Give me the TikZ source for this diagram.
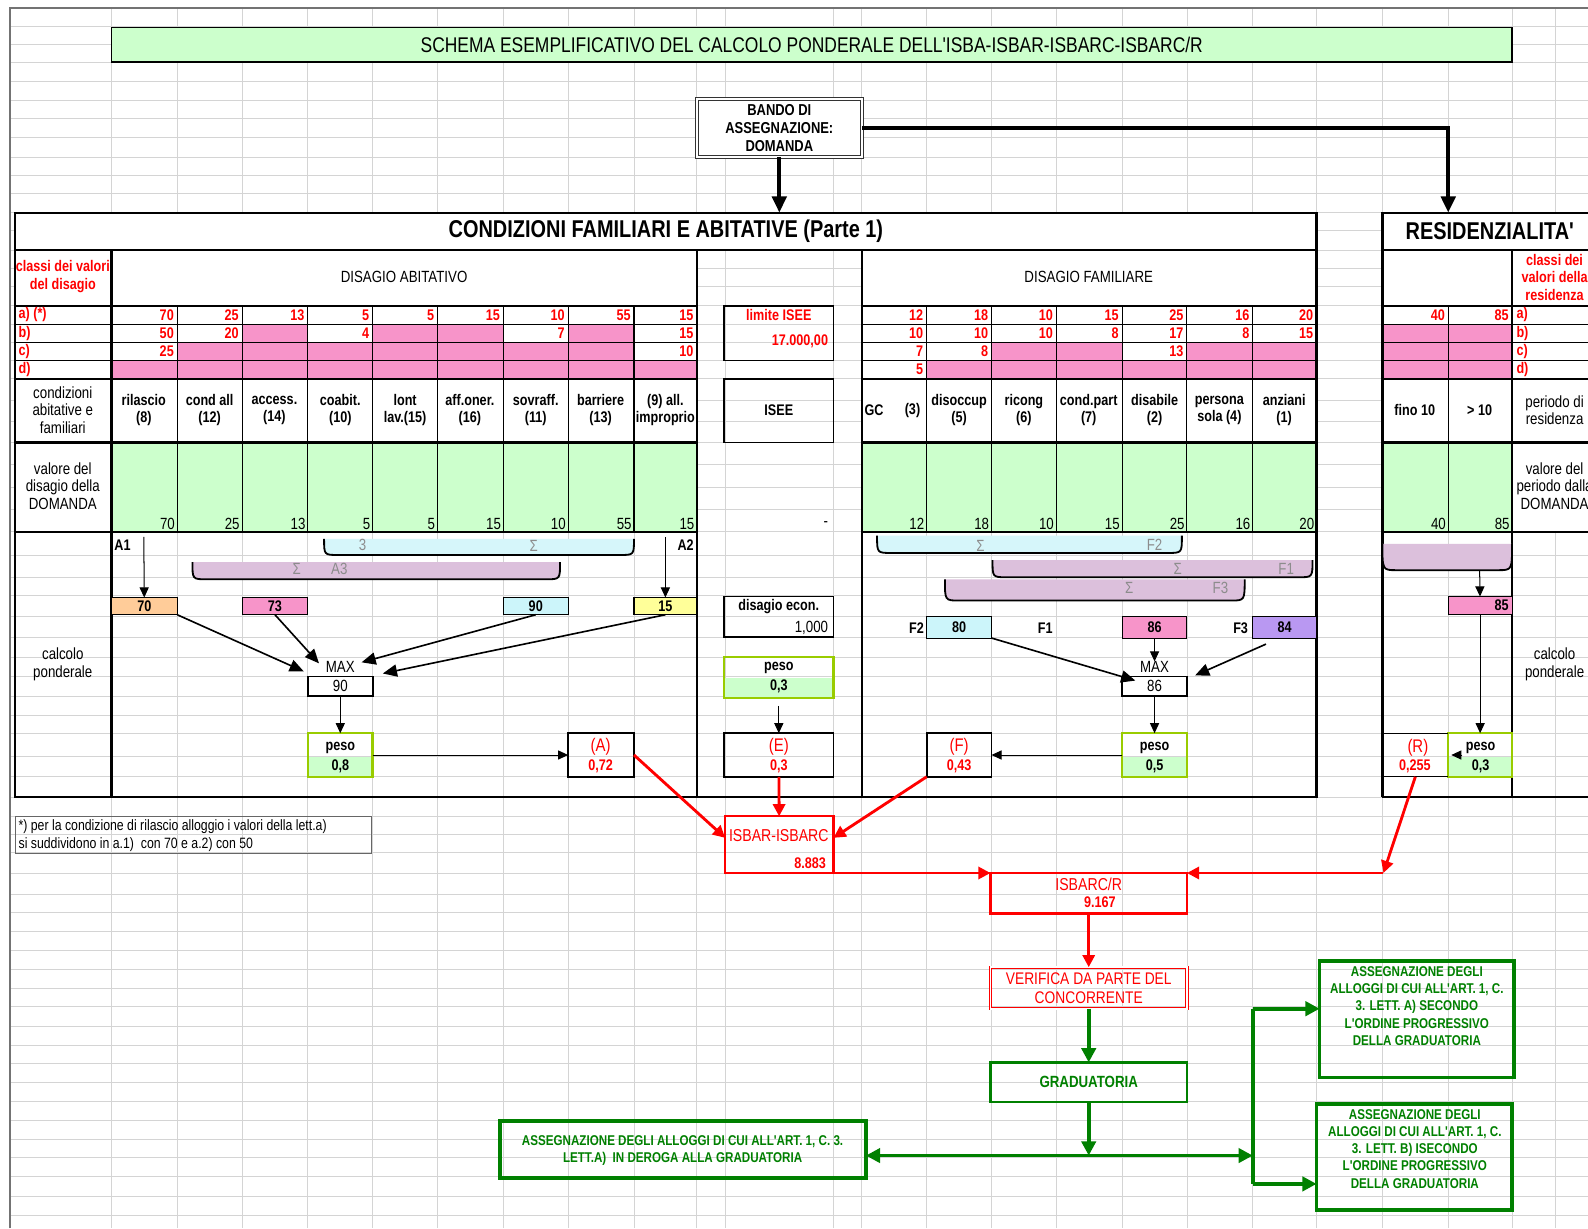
\documentclass[tikz,border=0pt]{standalone}
\usepackage{fontspec}
\setmainfont{Liberation Sans}[FakeStretch=0.82, Ligatures=TeXOff]
\usetikzlibrary{positioning, arrows.meta, fit, calc}

\definecolor{cellgreen}{HTML}{CCFFCC}
\definecolor{cellpink}{HTML}{F794C9}
\definecolor{cellorange}{HTML}{FFCC99}
\definecolor{cellcyan}{HTML}{CCF5FA}
\definecolor{cellyellow}{HTML}{FFFF99}
\definecolor{cellpurple}{HTML}{B998F2}
\definecolor{hatchpurple}{HTML}{DCC0DC}
\definecolor{hatchcyan}{HTML}{D6F6FA}
\definecolor{pesoborder}{HTML}{99CC00}
\definecolor{flowgreen}{HTML}{008000}

\newcommand{\cellfont}{\fontsize{7.6}{8.6}\selectfont}
\newcommand{\labfont}{\fontsize{8}{8.8}\selectfont}
\newcommand{\hdrfont}{\fontsize{12}{14}\selectfont\bfseries}
\newcommand{\titlefont}{\fontsize{10.5}{12}\selectfont}
\newcommand{\letfont}{\fontsize{9}{10}\selectfont}
\newcommand{\assfont}{\fontsize{7}{8.5}\selectfont\bfseries}

% bracket under the summed columns
\newcommand{\sumbracket}[5]{%
  \fill[#5] (#1,#3) .. controls (#1,#4) .. (#1+14,#4) -- (#2-14,#4) .. controls (#2,#4) .. (#2,#3) -- cycle;
  \draw[line width=0.9pt] (#1,#3) .. controls (#1,#4) .. (#1+14,#4) -- (#2-14,#4) .. controls (#2,#4) .. (#2,#3);}

\begin{document}
\begin{tikzpicture}
  [x=0.5pt, y=-0.5pt,
   gridline/.style={draw=black!17, line width=0.4pt},
   thickline/.style={line width=1.1pt},
   thinline/.style={line width=0.5pt},
   fitbox/.style={inner sep=0pt, outer sep=0pt},
   cbox/.style={fitbox, draw, line width=0.5pt},
   pesobox/.style={fitbox, draw=pesoborder, line width=1.2pt},
   resbox/.style={fitbox, draw, line width=0.9pt},
   hd/.style={font=\cellfont\bfseries, align=center, inner sep=0pt},
   lab/.style={font=\labfont, align=center, inner sep=0pt},
   rnum/.style={font=\cellfont\bfseries, text=red, anchor=east, inner sep=0pt},
   vnum/.style={font=\labfont, anchor=east, inner sep=0pt},
   rlab/.style={font=\cellfont\bfseries, text=red, anchor=west, inner sep=0pt},
   sig/.style={font=\labfont, text=black!45, inner sep=0pt},
   arr/.style={-{Triangle[length=5pt,width=4.5pt]}, line width=0.5pt},
   darr/.style={-{Triangle[length=7pt,width=6pt]}, line width=0.8pt},
   bigarr/.style={-{Triangle[length=8pt,width=7pt]}, line width=2pt},
   redarr/.style={-{Triangle[length=6pt,width=6pt]}, draw=red, line width=1.4pt},
   grnarr/.style={-{Triangle[length=7pt,width=7pt]}, draw=flowgreen, line width=1.8pt},
   assbox/.style={fitbox, draw=flowgreen, line width=1.8pt},
   asstxt/.style={font=\assfont, text=flowgreen, align=center, inner sep=0pt}]

  \useasboundingbox (0,0) rectangle (1568,1213);
  \clip (0,0) rectangle (1568,1213);
  \fill[white] (0,0) rectangle (1568,1213);

  % spreadsheet grid
  \foreach \gx in {10,110,175,239,304,368,432,497,561,626,688,716,823,851,915,979,1043,1108,1172,1237,1300,1365,1430,1493,1536}
    \draw[gridline] (\gx,8) -- (\gx,1213);
  \foreach \gy in {8,26,44,62,80,99,117,136,155,173,191,210,228,247,265,283,302,320,338,356,374,395,416,437,459,481,503,525,548,570,588,609,629,649,668,688,706,724,747,767,787,806,824,842,862,883,901,920,938,957,976,994,1013,1032,1050,1069,1088,1106,1125,1143,1162,1181,1200}
    \draw[gridline] (10,\gy) -- (1568,\gy);
  \draw[black!55, line width=0.7pt] (10,1213) -- (10,8) -- (1568,8);

  \node[fitbox, draw, line width=0.8pt, fill=cellgreen, fit={(110,27) (1493,61)}] (title) {};
  \node[font=\titlefont, inner sep=0pt] (titlet) at (title)
    {SCHEMA ESEMPLIFICATIVO DEL CALCOLO PONDERALE DELL'ISBA-ISBAR-ISBARC-ISBARC/R};

  \node[fitbox, draw=black!80, double, double distance=1.2pt, line width=0.5pt, fill=white,
        fit={(688,98) (851,155)}] (bando) {};
  \node[hd, font=\fontsize{7.8}{9}\selectfont\bfseries] (bandot) at (bando) {BANDO DI\\ASSEGNAZIONE:\\DOMANDA};

  % fills of the tables
  \fill[white] (15,210) rectangle (1300,247);
  \fill[white] (15,247) rectangle (688,525);
  \fill[white] (851,247) rectangle (1300,525);
  \fill[white] (1365,210) rectangle (1568,437);
  \fill[white] (1493,437) rectangle (1568,525);
  \fill[cellpink] (110,356) rectangle (688,374);
  \fill[cellpink] (175,338) rectangle (626,356);
  \foreach \xa/\xb in {239/304,368/432,432/497,561/626}
    \fill[cellpink] (\xa,320) rectangle (\xb,338);
  \fill[cellpink] (915,356) rectangle (1300,374);
  \fill[cellpink] (979,338) rectangle (1108,356);
  \fill[cellpink] (1172,338) rectangle (1300,356);
  \fill[cellpink] (1365,320) rectangle (1493,374);
  \fill[cellgreen] (110,437) rectangle (688,525);
  \fill[cellgreen] (851,437) rectangle (1300,525);
  \fill[cellgreen] (1365,437) rectangle (1493,525);

  % lines of the main table
  \draw[thickline] (15,210) rectangle (1300,787);
  \draw[thickline] (15,247) -- (1300,247);
  \foreach \x in {110,688,851}
    \draw[thickline] (\x,247) -- (\x,787);
  \foreach \y in {302,374,437,525} {
    \draw[thickline] (15,\y) -- (688,\y);
    \draw[thickline] (851,\y) -- (1300,\y);
  }
  \foreach \y in {320,338,356} {
    \draw[thinline] (15,\y) -- (688,\y);
    \draw[thinline] (851,\y) -- (1300,\y);
  }
  \foreach \x in {175,239,304,368,432,497,561,626,915,979,1043,1108,1172,1237}
    \draw[thinline] (\x,302) -- (\x,525);

  % lines of the residence table
  \draw[thickline] (1365,787) -- (1365,210) -- (1580,210);
  \draw[thickline] (1365,787) -- (1580,787);
  \draw[thickline] (1365,247) -- (1580,247);
  \draw[thickline] (1493,247) -- (1493,787);
  \foreach \y in {302,374,437,525}
    \draw[thickline] (1365,\y) -- (1580,\y);
  \foreach \y in {320,338,356}
    \draw[thinline] (1365,\y) -- (1580,\y);
  \draw[thinline] (1430,302) -- (1430,525);

  \node[fitbox, fit={(15,210) (1300,247)}] (hdrA) {};
  \node[font=\hdrfont, inner sep=0pt] (hdrAt) at (hdrA) {CONDIZIONI FAMILIARI E ABITATIVE (Parte 1)};
  \node[fitbox, fit={(1365,210) (1577,247)}] (hdrR) {};
  \node[font=\hdrfont, inner sep=0pt] (hdrRt) at (hdrR) {RESIDENZIALITA'};

  \coordinate (rtop) at (1430,210);
  \draw[bigarr] (bando.south) -- (bando.south |- hdrA.north);
  \draw[bigarr] (bando.east) -| (rtop);

  % headers
  \node[rlab, anchor=center, align=center] (classi) at (62,273) {classi dei valori\\del disagio};
  \node[lab] (disab) at (399,273) {DISAGIO ABITATIVO};
  \node[lab] (disfam) at (1075,273) {DISAGIO FAMILIARE};
  \node[rlab, anchor=center, align=center] (classr) at (1535,274) {classi dei\\valori della\\residenza};

  \foreach \y/\l [count=\i] in {311/{a) (*)},329/b),347/c),365/d)} {
    \node[rlab] (cl\i) at (18,\y) {\l};
  }
  \foreach \y/\l [count=\i] in {311/a),329/b),347/c),365/d)} {
    \node[rlab] (cr\i) at (1497,\y) {\l};
  }

  % class values
  \foreach \x/\v [count=\i] in {175/70,239/25,304/13,368/5,432/5,497/15,561/10,626/55,688/15,915/12,979/18,1043/10,1108/15,1172/25,1237/16,1300/20,1430/40,1493/85}
    \node[rnum] (ra\i) at (\x-3,311) {\v};
  \foreach \x/\v [count=\i] in {175/50,239/20,368/4,561/7,688/15,915/10,979/10,1043/10,1108/8,1172/17,1237/8,1300/15}
    \node[rnum] (rb\i) at (\x-3,329) {\v};
  \foreach \x/\v [count=\i] in {175/25,688/10,915/7,979/8,1172/13}
    \node[rnum] (rc\i) at (\x-3,347) {\v};
  \node[rnum] (rd1) at (912,365) {5};

  % conditions
  \node[lab] (lcond) at (62,405) {condizioni\\abitative e\\familiari};
  \foreach \x/\t [count=\i] in {142/{rilascio\\(8)},207/{cond all\\(12)},271/{access.\\(14)},336/{coabit.\\(10)},400/{lont\\lav.(15)},464/{aff.oner.\\(16)},529/{sovraff.\\(11)},593/{barriere\\(13)},657/{(9) all.\\improprio}}
    \node[hd] (ha\i) at (\x,405) {\t};
  \node[hd] (gc) at (863,405) {GC};
  \node[hd] (gcn) at (901,405) {(3)};
  \foreach \x/\t [count=\i] in {947/{disoccup\\(5)},1011/{ricong\\(6)},1075/{cond.part\\(7)},1140/{disabile\\(2)},1204/{persona\\sola (4)},1268/{anziani\\(1)}}
    \node[hd] (hf\i) at (\x,405) {\t};
  \node[hd] (fino) at (1397,405) {fino 10};
  \node[hd] (oltre) at (1461,405) {> 10};
  \node[lab] (rper) at (1535,405) {periodo di\\residenza};

  % values of the application
  \node[lab] (lval) at (62,480) {valore del\\disagio della\\DOMANDA};
  \foreach \x/\v [count=\i] in {175/70,239/25,304/13,368/5,432/5,497/15,561/10,626/55,688/15,915/12,979/18,1043/10,1108/15,1172/25,1237/16,1300/20,1430/40,1493/85}
    \node[vnum] (va\i) at (\x-2,517) {\v};
  \node[vnum] (iseev) at (818,517) {-};
  \node[lab] (rval) at (1535,480) {valore del\\periodo dalla\\DOMANDA};

  \node[resbox, fit={(715,302) (823,356)}] (lim) {};
  \node[rlab, anchor=center] (limt) at (769,311) {limite ISEE};
  \node[rnum] (limv) at (818,337) {17.000,00};
  \node[resbox, fit={(715,374) (823,437)}] (isee) {};
  \node[hd] (iseet) at (isee) {ISEE};

  % calcolo ponderale
  \node[lab] (lcalc) at (62,656) {calcolo\\ponderale};
  \node[lab] (rcalc) at (1535,656) {calcolo\\ponderale};

  \sumbracket{320}{626}{532}{548}{hatchcyan}
  \sumbracket{190}{553}{555}{572}{hatchpurple}
  \sumbracket{866}{1167}{529}{546}{hatchcyan}
  \sumbracket{980}{1296}{553}{570}{hatchpurple}
  \sumbracket{933}{1229}{572}{593}{hatchpurple}
  \sumbracket{1365}{1493}{537}{563}{hatchpurple}
  \node[sig] (s3) at (358,538) {3};
  \node[sig] (s3s) at (527,539) {Σ};
  \node[sig] (sa3s) at (293,562) {Σ};
  \node[sig] (sa3) at (335,562) {A3};
  \node[sig] (sf2s) at (968,539) {Σ};
  \node[sig] (sf2) at (1140,538) {F2};
  \node[sig] (sf1s) at (1163,562) {Σ};
  \node[sig] (sf1) at (1270,562) {F1};
  \node[sig] (sf3s) at (1115,581) {Σ};
  \node[sig] (sf3) at (1205,581) {F3};

  % abitativo
  \node[hd] (a1) at (121,538) {A1};
  \node[hd] (a2) at (677,538) {A2};
  \coordinate (a1s) at (142,530);
  \coordinate (a2s) at (657,530);
  \node[cbox, fill=cellorange, fit={(110,590) (175,607)}] (b70) {};
  \node[hd] (b70t) at (b70) {70};
  \node[cbox, fill=cellpink, fit={(239,590) (304,607)}] (b73) {};
  \node[hd] (b73t) at (b73) {73};
  \node[cbox, fill=cellcyan, fit={(497,590) (561,607)}] (b90) {};
  \node[hd] (b90t) at (b90) {90};
  \node[cbox, fill=cellyellow, fit={(626,590) (688,607)}] (b15) {};
  \node[hd] (b15t) at (b15) {15};
  \draw[arr] (a1s) -- (b70);
  \draw[arr] (a2s) -- (b15);

  \node[lab] (maxa) at (336,659) {MAX};
  \node[fitbox, draw, line width=0.8pt, fit={(304,668) (368,687)}] (m90) {};
  \node[lab] (m90t) at (m90) {90};
  \coordinate (t1) at (300,663);
  \coordinate (t2) at (315,655);
  \coordinate (t3) at (357,654);
  \coordinate (t4) at (378,665);
  \draw[darr] (b70.south east) -- (t1);
  \draw[darr] (b73.south) -- (t2);
  \draw[darr] (b90.south) -- (t3);
  \draw[darr] (b15.south) -- (t4);

  \fill[cellgreen] (304,747) rectangle (368,767);
  \node[pesobox, fit={(304,724) (368,767)}] (pesoa) {};
  \node[hd] (pesoat) at (336,739) {peso};
  \node[hd] (pesoav) at (336,757) {0,8};
  \draw[arr] (m90) -- (pesoa);

  \node[resbox, fit={(561,724) (626,767)}] (boxA) {};
  \node[lab, font=\letfont, text=red] (boxAt) at (593,737) {(A)};
  \node[hd, text=red] (boxAv) at (593,757) {0,72};
  \draw[arr] (pesoa) -- (boxA);

  % economico
  \node[resbox, fit={(715,589) (823,629)}] (econ) {};
  \node[hd] (econt) at (769,599) {disagio econ.};
  \node[vnum] (econv) at (818,620) {1,000};
  \fill[cellgreen] (715,669) rectangle (823,689);
  \node[pesobox, fit={(715,649) (823,689)}] (pesoe) {};
  \node[hd] (pesoet) at (769,660) {peso};
  \node[hd] (pesoev) at (769,678) {0,3};
  \node[resbox, fit={(715,724) (823,767)}] (boxE) {};
  \node[lab, font=\letfont, text=red] (boxEt) at (769,737) {(E)};
  \node[hd, text=red] (boxEv) at (769,757) {0,3};
  \draw[arr, shorten <=4pt] (pesoe) -- (boxE);

  % familiare
  \node[hd] (f2l) at (905,620) {F2};
  \node[cbox, fill=cellcyan, fit={(915,609) (979,630)}] (b80) {};
  \node[hd] (b80t) at (b80) {80};
  \node[hd] (f1l) at (1032,620) {F1};
  \node[cbox, fill=cellpink, fit={(1108,609) (1172,630)}] (b86) {};
  \node[hd] (b86t) at (b86) {86};
  \node[hd] (f3l) at (1225,620) {F3};
  \node[cbox, fill=cellpurple, fit={(1237,609) (1300,630)}] (b84) {};
  \node[hd] (b84t) at (b84) {84};
  \node[lab] (maxf) at (1140,659) {MAX};
  \node[fitbox, draw, line width=0.8pt, fit={(1108,668) (1172,687)}] (m86) {};
  \node[lab] (m86t) at (m86) {86};
  \coordinate (t5) at (1121,672);
  \coordinate (f3s) at (1250,636);
  \coordinate (t6) at (1180,667);
  \draw[darr] (b80.south east) -- (t5);
  \draw[arr] (b86) -- (maxf);
  \draw[darr] (f3s) -- (t6);

  \fill[cellgreen] (1108,747) rectangle (1172,767);
  \node[pesobox, fit={(1108,724) (1172,767)}] (pesof) {};
  \node[hd] (pesoft) at (1140,739) {peso};
  \node[hd] (pesofv) at (1140,757) {0,5};
  \draw[arr] (m86) -- (pesof);
  \node[resbox, fit={(915,724) (979,767)}] (boxF) {};
  \node[lab, font=\letfont, text=red] (boxFt) at (947,737) {(F)};
  \node[hd, text=red] (boxFv) at (947,757) {0,43};
  \draw[arr] (pesof) -- (boxF);

  % residenza
  \coordinate (rbr) at (1461,563);
  \node[cbox, fill=cellpink, fit={(1430,589) (1493,607)}] (b85r) {};
  \node[rnum, text=black] (b85t) at (1490,598) {85};
  \draw[arr] (rbr) -- (b85r);
  \fill[cellgreen] (1430,747) rectangle (1493,767);
  \node[pesobox, fit={(1430,724) (1493,767)}] (pesor) {};
  \node[hd] (pesort) at (1462,739) {peso};
  \node[hd] (pesorv) at (1462,757) {0,3};
  \draw[arr] (b85r) -- (pesor);
  \draw[arr] ($(pesor.west)+(14,0)$) -- ($(pesor.west)+(3,0)$);
  \node[fitbox, fit={(1365,724) (1430,767)}] (boxR) {};
  \draw[thinline] (1365,724) -- (1430,724);
  \draw[thinline] (1365,767) -- (1430,767);
  \node[lab, font=\letfont, text=red] (boxRt) at (1400,738) {(R)};
  \node[hd, text=red] (boxRv) at (1397,757) {0,255};

  % note
  \node[fitbox, draw=black!60, line width=0.5pt, fit={(15,806) (367,843)}] (note) {};
  \node[lab, font=\fontsize{7.4}{8.8}\selectfont, anchor=west, align=left] (notet) at (18,825)
    {*) per la condizione di rilascio alloggio i valori della lett.a)\\si suddividono in a.1)\ \ con 70 e a.2) con 50};

  % red flow
  \node[fitbox, draw=red, line width=1.2pt, fit={(716,806) (823,862)}] (isbar) {};
  \node[lab, font=\fontsize{8.5}{10}\selectfont, text=red] (isbart) at (769,825) {ISBAR-ISBARC};
  \node[rnum] (isbarv) at (816,852) {8.883};
  \node[fitbox, draw=red, line width=1.2pt, fit={(978,862) (1172,902)}] (isbarcr) {};
  \node[lab, font=\fontsize{8.5}{10}\selectfont, text=red] (isbarcrt) at (1075,873) {ISBARC/R};
  \node[hd, text=red] (isbarcrv) at (1086,891) {9.167};
  \draw[redarr] (boxA.east) -- ($(isbar.north west)!0.38!(isbar.south west)$);
  \draw[redarr] (boxE) -- (isbar);
  \draw[redarr] (boxF.south west) -- ($(isbar.north east)!0.38!(isbar.south east)$);
  \draw[redarr] (isbar.south east) -- (isbarcr.north west);
  \coordinate (rj) at (1366,862);
  \draw[redarr] (boxR.south) -- (rj);
  \draw[redarr] (rj) -- (isbarcr.north east);

  \node[fitbox, draw=red, double, double distance=0.8pt, line width=0.4pt, fit={(978,955) (1172,996)}] (verif) {};
  \node[lab, font=\fontsize{8.3}{9.2}\selectfont, text=red] (veriftt) at (verif) {VERIFICA DA PARTE DEL\\CONCORRENTE};
  \draw[redarr] (isbarcr) -- (verif);

  % green flow
  \node[fitbox, draw=flowgreen, line width=1.3pt, fit={(978,1049) (1172,1088)}] (grad) {};
  \node[hd, font=\fontsize{8}{9}\selectfont\bfseries, text=flowgreen] (gradt) at (grad) {GRADUATORIA};
  \draw[grnarr] (verif) -- (grad);
  \node[assbox, fit={(494,1107) (855,1163)}] (assleft) {};
  \node[asstxt] (asslt) at (674,1136)
    {ASSEGNAZIONE DEGLI ALLOGGI DI CUI ALL'ART. 1, C. 3.\\LETT.A)\ \ IN DEROGA ALLA GRADUATORIA};
  \node[assbox, fit={(1303,949) (1495,1064)}] (ass1) {};
  \node[asstxt, anchor=north] (ass1t) at (1399,954)
    {ASSEGNAZIONE DEGLI\\ALLOGGI DI CUI ALL'ART. 1, C.\\3. LETT. A) SECONDO\\L'ORDINE PROGRESSIVO\\DELLA GRADUATORIA};
  \node[assbox, fit={(1300,1090) (1493,1195)}] (ass2) {};
  \node[asstxt, anchor=north] (ass2t) at (1397,1095)
    {ASSEGNAZIONE DEGLI\\ALLOGGI DI CUI ALL'ART. 1, C.\\3. LETT. B) ISECONDO\\L'ORDINE PROGRESSIVO\\DELLA GRADUATORIA};

  \coordinate (gj) at (1075,1141);
  \coordinate (gv) at (1237,1141);
  \coordinate (gtop) at (1237,996);
  \coordinate (gbot) at (1237,1169);
  \draw[grnarr] (grad) -- (gj);
  \draw[grnarr] (gj) -- (assleft.east |- gj);
  \draw[grnarr] (gj) -- (gv);
  \draw[draw=flowgreen, line width=1.8pt] (gtop) -- (gbot);
  \draw[grnarr] (gtop) -- (ass1.west |- gtop);
  \draw[grnarr] (gbot) -- (ass2.west |- gbot);
\end{tikzpicture}
\end{document}
